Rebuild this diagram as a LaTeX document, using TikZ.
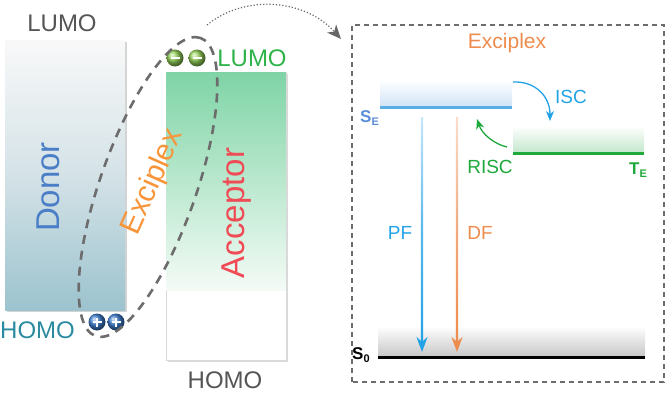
\documentclass[tikz,border=0pt]{standalone}
\usepackage{fontspec}
\setmainfont{Liberation Sans}
\usetikzlibrary{arrows.meta,shadows,shapes.geometric,calc}
\definecolor{gtxt}{HTML}{555555}
\definecolor{homoT}{HTML}{2A8AA0}
\definecolor{lumoG}{HTML}{2DB34A}
\definecolor{donorT}{HTML}{4A7EC7}
\definecolor{accT}{HTML}{F04A55}
\definecolor{exO}{HTML}{F7953B}
\definecolor{exO2}{HTML}{EE8C4E}
\definecolor{seB}{HTML}{5AAEE6}
\definecolor{pfB}{HTML}{22A3E6}
\definecolor{teG}{HTML}{1FA83C}
\definecolor{seLab}{HTML}{5B8ED8}
\tikzset{
  lbl/.style={inner sep=0pt, font=\fontsize{24}{28}\selectfont},
  big/.style={inner sep=0pt, font=\fontsize{33}{38}\selectfont},
  mid/.style={inner sep=0pt, font=\fontsize{19}{22}\selectfont},
  level/.style={line width=3pt},
  exdash/.style={draw=gray!85!black, line width=2.6pt, dash pattern=on 9pt off 7pt},
  tip/.style={-{Stealth[length=15pt,width=11pt,inset=5pt]}},
  smalltip/.style={-{Stealth[length=10pt,width=8pt,inset=3pt]}},
}
\begin{document}
\begin{tikzpicture}[x=1pt,y=1pt]
\useasboundingbox (0,0) rectangle (666,392);
% ---------- left panel ----------
\shade[top color=white!95!gray, bottom color={rgb,255:red,156;green,195;blue,206},
  middle color={rgb,255:red,212;green,226;blue,231},
  drop shadow={opacity=0.35, shadow xshift=1.5pt, shadow yshift=-1.5pt}]
  (5,82) rectangle (125,352);
\filldraw[fill=white, draw=gray!30, drop shadow={opacity=0.3, shadow xshift=1.5pt, shadow yshift=-1.5pt}]
  (166,32) rectangle (286,320);
\shade[top color={rgb,255:red,127;green,212;blue,166},
  middle color={rgb,255:red,170;green,225;blue,193},
  bottom color={rgb,255:red,244;green,251;blue,246}]
  (166.3,102) rectangle (285.7,319.7);
\node[lbl, text=gtxt] (lumoD) at (62,369) {LUMO};
\node[lbl, text=homoT, anchor=west] (homoD) at (0,62) {HOMO};
\node[lbl, text=lumoG] (lumoA) at (252,334) {LUMO};
\node[lbl, text=gtxt] (homoA) at (225,12) {HOMO};
\node[big, text=donorT, rotate=90] (donor) at (48,205) {Donor};
\node[big, text=accT, rotate=90] (acceptor) at (237,179) {Acceptor};
% charges
\foreach \x in {97,116}{
  \shade[ball color={rgb,255:red,64;green,128;blue,210}] (\x,70) circle (8.5);
  \draw[white, line width=2pt] (\x-4.5,70) -- (\x+4.5,70) (\x,65.5) -- (\x,74.5);
}
\foreach \x in {175,197}{
  \shade[ball color={rgb,255:red,150;green,212;blue,90}] (\x,334) circle (8.5);
  \draw[white, line width=2pt] (\x-4.5,334) -- (\x+4.5,334);
}
\node[exdash, ellipse, minimum width=316pt, minimum height=96pt, rotate=70.6] (exell) at (148,205) {};
\node[inner sep=0pt, text=exO, font=\fontsize{30}{36}\selectfont, rotate=66] (exL) at (153,210) {Exciplex};
% dotted connector
\coordinate (c0) at (207,367);
\coordinate (c1) at (341,353);
\draw[gray!80!black, line width=1.2pt, dotted, -{Stealth[length=14pt,width=12pt,inset=4pt]}]
  (c0) .. controls (245,398) and (305,393) .. (c1);
% ---------- right panel ----------
\draw[gray!85!black, line width=1.2pt, dash pattern=on 5pt off 4pt] (352,10) rectangle (664,367);
\node[inner sep=0pt, text=exO2, font=\fontsize{21}{25}\selectfont] (exR) at (507,349) {Exciplex};
% level glows
\shade[top color=white, bottom color={rgb,255:red,210;green,228;blue,246}] (380,286) rectangle (512,312);
\shade[top color=white, bottom color={rgb,255:red,196;green,232;blue,205}] (513,240) rectangle (644,266);
\shade[top color=white, bottom color={rgb,255:red,200;green,200;blue,200}] (378,36) rectangle (645,66);
% levels
\coordinate (se0) at (380,285); \coordinate (se1) at (512,285);
\coordinate (te0) at (513,239); \coordinate (te1) at (644,239);
\coordinate (s00) at (378,35); \coordinate (s01) at (645,35);
\draw[level, seB] (se0) -- (se1);
\draw[level, teG] (te0) -- (te1);
\draw[level, black] (s00) -- (s01);
\node[inner sep=0pt, text=seLab, font=\bfseries\fontsize{17}{19}\selectfont, anchor=base west] (seL) at (360,270)
  {S\raisebox{-3.5pt}{\fontsize{11}{12}\selectfont E}};
\node[inner sep=0pt, text=teG, font=\bfseries\fontsize{17}{19}\selectfont, anchor=base west] (teL) at (629,218)
  {T\raisebox{-3.5pt}{\fontsize{11}{12}\selectfont E}};
\node[inner sep=0pt, text=black, font=\bfseries\fontsize{17}{19}\selectfont, anchor=base west] (s0L) at (352,33)
  {S\raisebox{-3.5pt}{\fontsize{11}{12}\selectfont 0}};
% ISC / RISC
\coordinate (isc0) at (513,310); \coordinate (isc1) at (550,271);
\draw[pfB, line width=1.3pt, smalltip] (isc0) .. controls (535,311) and (550,296) .. (isc1);
\node[mid, text=pfB] (iscL) at (571,295) {ISC};
\coordinate (risc0) at (507,245); \coordinate (risc1) at (477,273);
\draw[teG, line width=1.3pt, smalltip] (risc0) .. controls (494,248) and (482,258) .. (risc1);
\node[mid, text=teG] (riscL) at (490,225) {RISC};
% PF / DF
\coordinate (pf0) at (422,275); \coordinate (pf1) at (422,40);
\coordinate (df0) at (457,275); \coordinate (df1) at (457,40);
\shade[top color={rgb,255:red,200;green,230;blue,248}, bottom color=pfB, middle color={rgb,255:red,90;green,185;blue,236}] (420.8,52) rectangle (423.2,275);
\draw[pfB, line width=2.4pt, tip] ($(pf1)+(0,14)$) -- (pf1);
\shade[top color={rgb,255:red,250;green,222;blue,204}, bottom color=exO2, middle color={rgb,255:red,242;green,170;blue,125}] (455.8,52) rectangle (458.2,275);
\draw[exO2, line width=2.4pt, tip] ($(df1)+(0,14)$) -- (df1);
\node[mid, text=pfB] (pfL) at (400,159) {PF};
\node[mid, text=exO2] (dfL) at (480,159) {DF};
\end{tikzpicture}
\end{document}
